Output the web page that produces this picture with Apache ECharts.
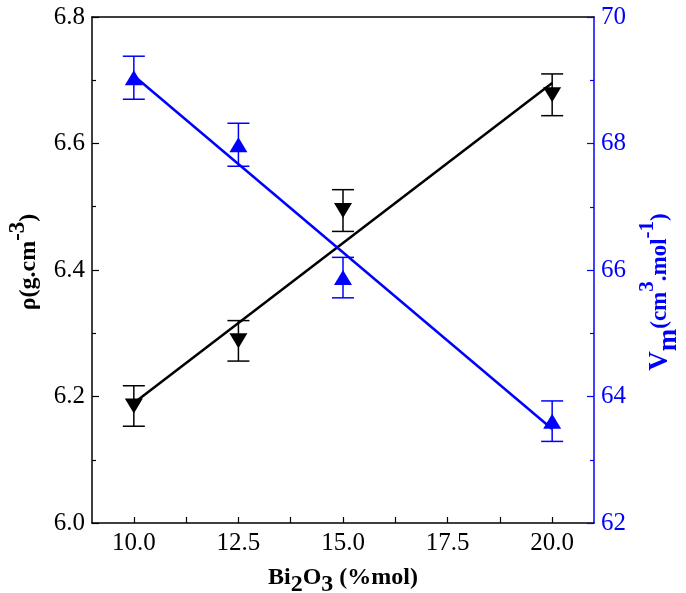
<!DOCTYPE html>
<html>
<head>
<meta charset="utf-8">
<script src="https://cdn.jsdelivr.net/npm/echarts@6/dist/echarts.min.js"></script>
<style>
  html, body { margin: 0; padding: 0; background: #fff; }
  #chart { width: 686px; height: 593px; }
</style>
</head>
<body>
<div id="chart"></div>
<script>
// Bi2O3 content (% mol)
const bi2o3 = [10, 12.5, 15, 20];
// Density ρ (g.cm-3) with error
const rhoValues = [6.185, 6.288, 6.494, 6.677];
const rhoErrors = [0.032, 0.032, 0.033, 0.033];
// Molar volume Vm (cm3.mol-1) with error
const vmValues = [69.04, 67.98, 65.88, 63.61];
const vmErrors = [0.34, 0.34, 0.32, 0.32];
// Axis ticks
const xLabelValues = [10, 12.5, 15, 17.5, 20];
const xTickValues = [10, 11.25, 12.5, 13.75, 15, 16.25, 17.5, 18.75, 20];

const BLACK = '#000000';
const BLUE = '#0000ff';
const FONT = '"Liberation Serif", "Times New Roman", serif';

// Least-squares straight line through the measured points
function linearFit(xs, ys) {
  const n = xs.length;
  const mx = xs.reduce((a, b) => a + b, 0) / n;
  const my = ys.reduce((a, b) => a + b, 0) / n;
  let sxy = 0, sxx = 0;
  for (let i = 0; i < n; i++) {
    sxy += (xs[i] - mx) * (ys[i] - my);
    sxx += (xs[i] - mx) * (xs[i] - mx);
  }
  const k = sxy / sxx;
  const b = my - k * mx;
  const x0 = Math.min(...xs), x1 = Math.max(...xs);
  return [[x0, k * x0 + b], [x1, k * x1 + b]];
}

function errorBars(color) {
  return function (params, api) {
    const x = api.value(0), y = api.value(1), e = api.value(2);
    const top = api.coord([x, y + e]);
    const bot = api.coord([x, y - e]);
    const hw = 11;
    const style = { stroke: color, lineWidth: 1.5 };
    return {
      type: 'group',
      children: [
        { type: 'line', shape: { x1: top[0], y1: top[1], x2: bot[0], y2: bot[1] }, style: style },
        { type: 'line', shape: { x1: top[0] - hw, y1: top[1], x2: top[0] + hw, y2: top[1] }, style: style },
        { type: 'line', shape: { x1: bot[0] - hw, y1: bot[1], x2: bot[0] + hw, y2: bot[1] }, style: style }
      ]
    };
  };
}

const rhoPoints = bi2o3.map((x, i) => [x, rhoValues[i]]);
const rhoErr = bi2o3.map((x, i) => [x, rhoValues[i], rhoErrors[i]]);
const vmPoints = bi2o3.map((x, i) => [x, vmValues[i]]);
const vmErr = bi2o3.map((x, i) => [x, vmValues[i], vmErrors[i]]);

const chart = echarts.init(document.getElementById('chart'), null, { renderer: 'canvas' });

const option = {
  animation: false,
  backgroundColor: '#ffffff',
  grid: { left: 92, right: 92, top: 17, bottom: 70, containLabel: false, outerBoundsMode: 'none' },
  xAxis: [
    {
      type: 'value',
      position: 'bottom',
      min: 9,
      max: 21,
      axisLine: { show: true, onZero: false, lineStyle: { color: BLACK, width: 1.5 } },
      axisTick: { show: true, inside: true, length: 6, customValues: xTickValues, lineStyle: { color: BLACK, width: 1.2 } },
      axisLabel: {
        show: true, customValues: xLabelValues, margin: 8,
        color: BLACK, fontFamily: FONT, fontSize: 25,
        formatter: v => Number(v).toFixed(1)
      },
      splitLine: { show: false },
      name: '{a|Bi}{b|2}{a|O}{b|3}{a| (%mol)}',
      nameLocation: 'middle',
      nameGap: 36,
      nameTextStyle: {
        rich: {
          a: { fontFamily: FONT, fontWeight: 'bold', fontSize: 24, lineHeight: 38, color: BLACK },
          b: { fontFamily: FONT, fontWeight: 'bold', fontSize: 24, lineHeight: 24, verticalAlign: 'bottom', color: BLACK }
        }
      }
    },
    {
      type: 'value',
      position: 'top',
      min: 9,
      max: 21,
      axisLine: { show: true, onZero: false, lineStyle: { color: BLACK, width: 1.5 } },
      axisTick: { show: false },
      axisLabel: { show: false },
      splitLine: { show: false }
    }
  ],
  yAxis: [
    {
      type: 'value',
      position: 'left',
      min: 6.0,
      max: 6.8,
      interval: 0.2,
      axisLine: { show: true, onZero: false, lineStyle: { color: BLACK, width: 1.5 } },
      axisTick: { show: true, inside: true, length: 7, lineStyle: { color: BLACK, width: 1.2 } },
      minorTick: { show: true, splitNumber: 2, length: 4, lineStyle: { color: BLACK, width: 1.2 } },
      axisLabel: {
        margin: 7, color: BLACK, fontFamily: FONT, fontSize: 25,
        formatter: v => Number(v).toFixed(1)
      },
      splitLine: { show: false },
      name: '{a|ρ(g.cm}{s|-3}{a|)}',
      nameLocation: 'middle',
      nameRotate: 90,
      nameGap: 41,
      nameTextStyle: {
        padding: [0, 0, 0, 16],
        rich: {
          a: { fontFamily: FONT, fontWeight: 'bold', fontSize: 24, lineHeight: 44, color: BLACK },
          s: { fontFamily: FONT, fontWeight: 'bold', fontSize: 23, lineHeight: 23, verticalAlign: 'top', color: BLACK }
        }
      }
    },
    {
      type: 'value',
      position: 'right',
      min: 62,
      max: 70,
      interval: 2,
      axisLine: { show: true, onZero: false, lineStyle: { color: BLUE, width: 1.5 } },
      axisTick: { show: true, inside: true, length: 7, lineStyle: { color: BLUE, width: 1.2 } },
      minorTick: { show: true, splitNumber: 2, length: 4, lineStyle: { color: BLUE, width: 1.2 } },
      axisLabel: { margin: 7, color: BLUE, fontFamily: FONT, fontSize: 25 },
      splitLine: { show: false },
      name: '{v|V}{m|m}{a|(cm}{s|3}{a|.mol}{s|-1}{a|)}',
      nameLocation: 'middle',
      nameRotate: 90,
      nameGap: 28,
      nameTextStyle: {
        padding: [0, 44, 0, 0],
        rich: {
          v: { fontFamily: FONT, fontWeight: 'bold', fontSize: 27, lineHeight: 46, color: BLUE },
          m: { fontFamily: FONT, fontWeight: 'bold', fontSize: 27, lineHeight: 28, verticalAlign: 'bottom', color: BLUE },
          a: { fontFamily: FONT, fontWeight: 'bold', fontSize: 23, lineHeight: 46, color: BLUE },
          s: { fontFamily: FONT, fontWeight: 'bold', fontSize: 21, lineHeight: 21, verticalAlign: 'top', color: BLUE }
        }
      }
    }
  ],
  series: [
    {
      name: 'ρ error',
      type: 'custom',
      xAxisIndex: 0,
      yAxisIndex: 0,
      renderItem: errorBars(BLACK),
      data: rhoErr,
      z: 2
    },
    {
      name: 'ρ',
      type: 'scatter',
      xAxisIndex: 0,
      yAxisIndex: 0,
      symbol: 'triangle',
      symbolRotate: 180,
      symbolSize: [18, 15],
      itemStyle: { color: BLACK, opacity: 1 },
      data: rhoPoints,
      z: 3
    },
    {
      name: 'ρ fit',
      type: 'line',
      xAxisIndex: 0,
      yAxisIndex: 0,
      showSymbol: false,
      lineStyle: { color: BLACK, width: 2.5 },
      data: linearFit(bi2o3, rhoValues),
      z: 4
    },
    {
      name: 'Vm error',
      type: 'custom',
      xAxisIndex: 0,
      yAxisIndex: 1,
      renderItem: errorBars(BLUE),
      data: vmErr,
      z: 2
    },
    {
      name: 'Vm',
      type: 'scatter',
      xAxisIndex: 0,
      yAxisIndex: 1,
      symbol: 'triangle',
      symbolSize: [18, 15],
      itemStyle: { color: BLUE, opacity: 1 },
      data: vmPoints,
      z: 3
    },
    {
      name: 'Vm fit',
      type: 'line',
      xAxisIndex: 0,
      yAxisIndex: 1,
      showSymbol: false,
      lineStyle: { color: BLUE, width: 2.5 },
      data: linearFit(bi2o3, vmValues),
      z: 4
    }
  ]
};

chart.setOption(option);
</script>
</body>
</html>
